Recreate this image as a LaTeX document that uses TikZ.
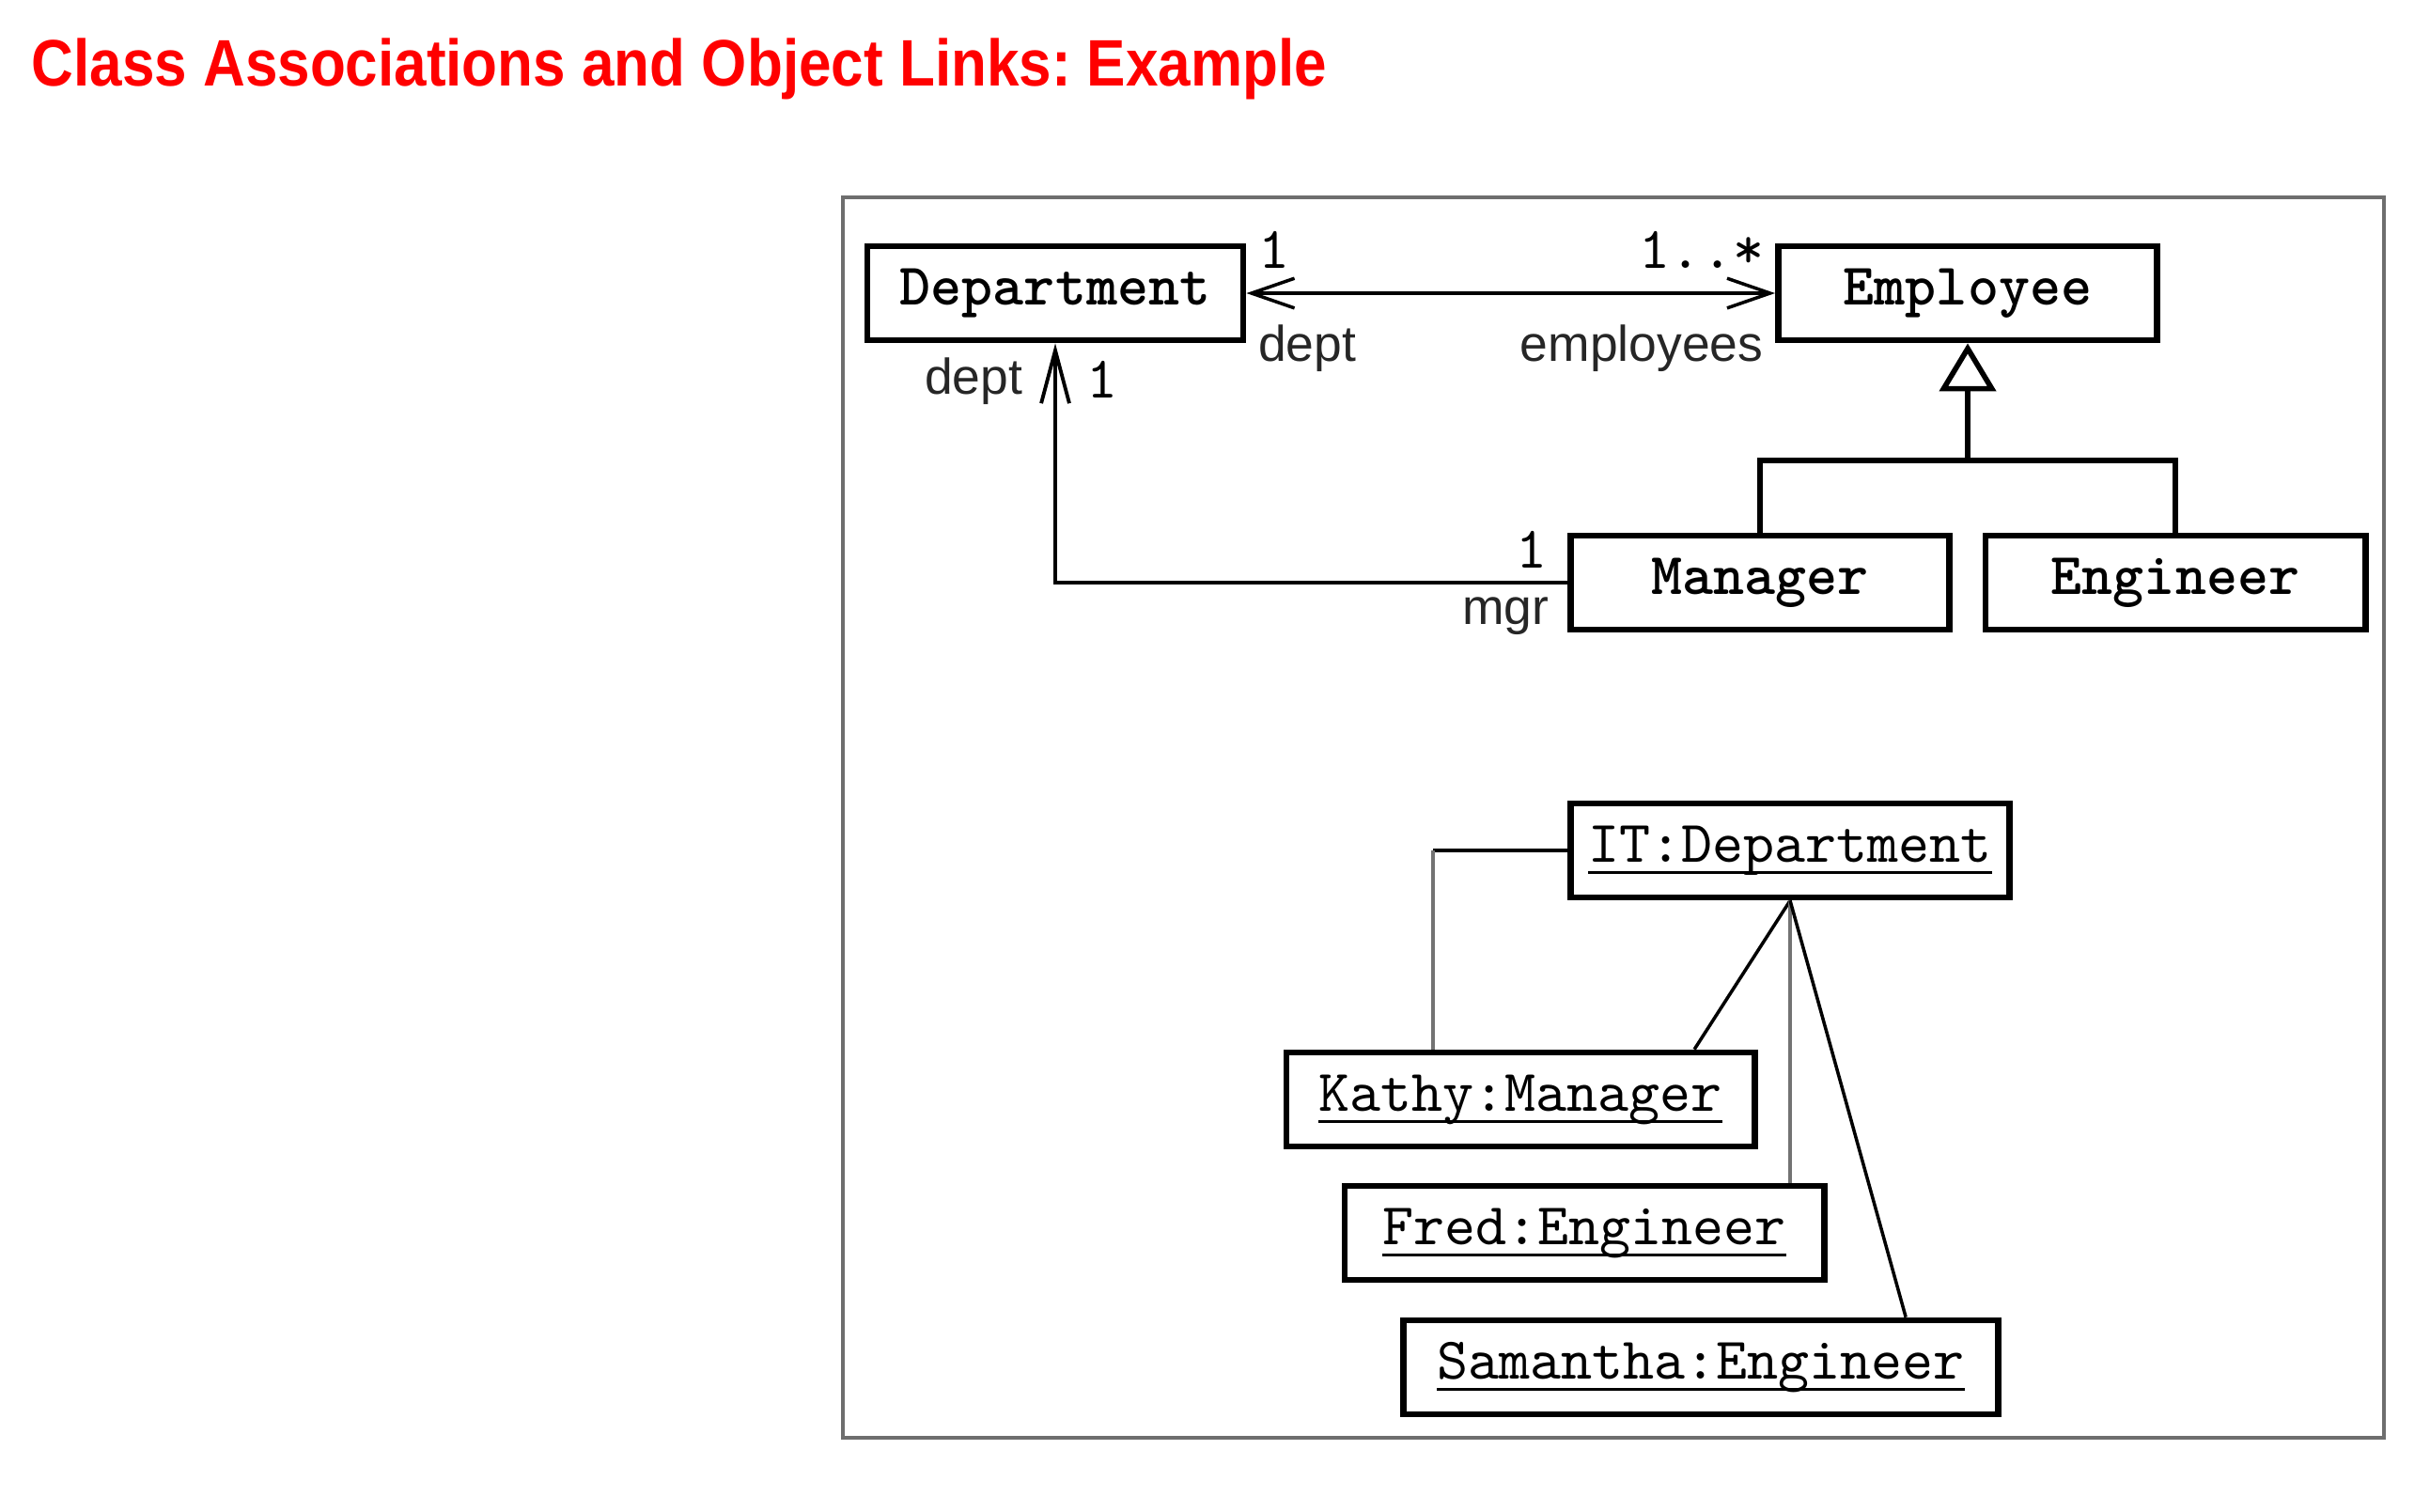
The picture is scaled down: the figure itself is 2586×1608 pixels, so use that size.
\documentclass[tikz,border=0pt]{standalone}
\usepackage{fontspec}
\usepackage{graphicx}
\usetikzlibrary{arrows.meta}
\newfontfamily\titlefont{Liberation Sans}
\newfontfamily\rolefont{Liberation Sans}
\newfontfamily\codefont{lmmono10-regular}[Extension=.otf, BoldFont=lmmonolt10-bold]
\definecolor{titlered}{RGB}{255,0,0}
\definecolor{framegray}{RGB}{110,110,110}
% object name: text with a firm rule just under the baseline
\newcommand\objname[1]{\setbox0\hbox{#1}\rlap{\rule[-3.6pt]{\wd0}{0.9pt}}\box0}
\begin{document}
\begin{tikzpicture}[x=0.01cm, y=-0.01cm,
  classbox/.style={draw, line width=1.9pt, minimum height=1cm, inner sep=0pt,
    font=\codefont\bfseries\fontsize{17.9}{20}\selectfont},
  objbox/.style={draw, line width=1.9pt, minimum height=1cm, inner sep=0pt,
    font=\codefont\fontsize{17.9}{20}\selectfont},
  role/.style={font=\rolefont\fontsize{15.2}{17}\selectfont, inner sep=0pt, text=black!85},
  mult/.style={font=\codefont\fontsize{17.9}{20}\selectfont, inner sep=0pt},
  barb/.style={line width=1pt, {Straight Barb[length=13pt, width=9pt]}-{Straight Barb[length=13pt, width=9pt]}},
  navup/.style={line width=1.1pt, -{Straight Barb[length=16pt, width=8.5pt]}},
  genline/.style={line width=1.5pt},
  link/.style={line width=1pt},
  graylink/.style={line width=1pt, draw=black!55}
]
\useasboundingbox (0,0) rectangle (2586,1608);

% title
\node[anchor=base west, inner sep=0pt, text=titlered,
  font=\titlefont\bfseries\fontsize{19.9}{24}\selectfont\frenchspacing] (title) at (33,91)
  {\scalebox{0.886}[1]{Class Associations and Object Links: Example}};

% diagram frame
\draw[framegray, line width=0.9pt] (897,210) rectangle (2537,1530);

% class diagram
\node[classbox, minimum width=4cm]    (dept) at (1123,312) {Department};
\node[classbox, minimum width=4.03cm] (emp)  at (2094,312) {Employee};
\node[classbox, minimum width=4.03cm] (mgr)  at (1873,620) {Manager};
\node[classbox, minimum width=4.04cm] (eng)  at (2315,620) {Engineer};

\draw[barb] (dept.east) -- (emp.west);
\node[mult] (m1)  at (1356,266) {1};
\node[mult] (m2)  at (1811,266) {1..*};
\node[role] (r1)  at (1391,371) {dept};
\node[role] (r2)  at (1747,371) {employees};

\draw[navup] (mgr.west) -| (dept.south);
\node[role] (r3)  at (1036,406) {dept};
\node[mult] (m3)  at (1173,404) {1};
\node[mult] (m4)  at (1630,585) {1};
\node[role] (r4)  at (1602,656) {mgr};

% generalization
\coordinate (genjoin) at (2094,490);
\draw[genline] (mgr.north) |- (genjoin) -| (eng.north);
\draw[line width=1.6pt, -{Triangle[open, length=14.5pt, width=17pt, fill=white]}] (genjoin) -- (emp.south);

% object diagram
\node[objbox, minimum width=4.67cm] (it)    at (1905,905)  {\objname{IT:Department}};
\node[objbox, minimum width=4.98cm] (kathy) at (1618,1170) {\objname{Kathy:Manager}};
\node[objbox, minimum width=5.10cm] (fred)  at (1686,1312) {\objname{Fred:Engineer}};
\node[objbox, minimum width=6.33cm] (sam)   at (1810,1455) {\objname{Samantha:Engineer}};

\coordinate (kathyleft)  at ([xshift=-0.93cm]kathy.north);
\coordinate (kathyright) at ([xshift=1.85cm]kathy.north);
\coordinate (samtop)     at ([xshift=2.18cm]sam.north);
\coordinate (itcorner)   at (it.west -| kathyleft);

\draw[link, line width=1.4pt] (it.west) -- (itcorner);
\draw[graylink] (itcorner) -- (kathyleft);
\draw[link] (it.south) -- (kathyright);
\draw[graylink] (it.south) -- (it.south |- fred.north);
\draw[link] (it.south) -- (samtop);
\end{tikzpicture}
\end{document}
